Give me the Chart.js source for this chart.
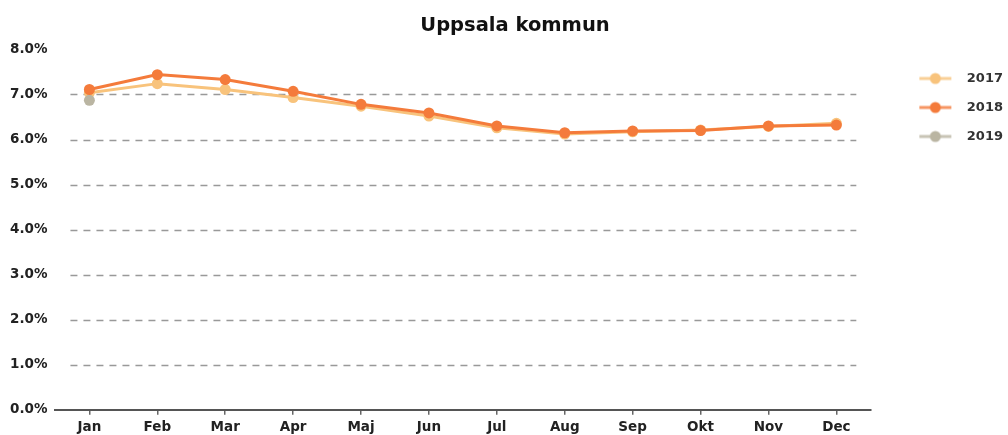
<!DOCTYPE html>
<html>
<head>
<meta charset="utf-8">
<script src="https://cdn.jsdelivr.net/npm/chart.js@4"></script>
<style>
  html, body { margin: 0; padding: 0; background: #fff; }
  #wrap { width: 1008px; height: 435px; }
</style>
</head>
<body>
<div id="wrap"><canvas id="chart"></canvas></div>
<script>
// data (percent)
const months = ['Jan', 'Feb', 'Mar', 'Apr', 'Maj', 'Jun', 'Jul', 'Aug', 'Sep', 'Okt', 'Nov', 'Dec'];
const v2017 = [7.04, 7.24, 7.11, 6.93, 6.74, 6.52, 6.26, 6.12, 6.17, 6.21, 6.29, 6.36];
const v2018 = [7.11, 7.44, 7.33, 7.07, 6.78, 6.59, 6.30, 6.15, 6.19, 6.20, 6.30, 6.32];
const v2019 = [6.87, null, null, null, null, null, null, null, null, null, null, null];
const gridValues = [1, 2, 3, 4, 5, 6, 7];

const colors = { '2017': '#f8c37c', '2018': '#f47b3b', '2019': '#bab5a2' };
const font = 'DejaVu Sans';

// little line + dot glyph for legend
function legendGlyph(col) {
  const c = document.createElement('canvas');
  c.width = 34; c.height = 14;
  const g = c.getContext('2d');
  g.strokeStyle = col; g.globalAlpha = 0.8;
  g.lineWidth = 3;
  g.beginPath(); g.moveTo(1, 7); g.lineTo(33, 7); g.stroke();
  g.globalAlpha = 1;
  g.fillStyle = col;
  g.beginPath(); g.arc(17, 7, 5.5, 0, Math.PI * 2); g.fill();
  return c;
}

// dashed grid lines, a bit inset from the axis ends
const dashedGrid = {
  id: 'dashedGrid',
  beforeDatasetsDraw(chart) {
    const ctx = chart.ctx, y = chart.scales.y, a = chart.chartArea;
    ctx.save();
    ctx.strokeStyle = '#999';
    ctx.lineWidth = 1.5;
    ctx.setLineDash([7, 6]);
    gridValues.forEach(v => {
      const py = Math.round(y.getPixelForValue(v)) + 0.5;
      ctx.beginPath();
      ctx.moveTo(a.left + 15, py);
      ctx.lineTo(a.right - 14, py);
      ctx.stroke();
    });
    ctx.restore();
  }
};

// leave a gap between plot and legend, push legend down, nudge title
const GAP = 19, SHIFT = 24;
const placeBoxes = {
  id: 'placeBoxes',
  beforeInit(chart) {
    const lg = chart.legend;
    const fit = lg.fit;
    lg.fit = function () { fit.call(this); this.width += GAP; };
  },
  afterLayout(chart) {
    const lg = chart.legend;
    lg.left += SHIFT; lg.right += SHIFT;
    lg.top += 48; lg.bottom += 48;
    chart.titleBlock.left += 10; chart.titleBlock.right += 10;
  }
};

function ds(label, data, order) {
  return {
    label: label,
    data: data,
    borderColor: colors[label],
    backgroundColor: colors[label],
    borderWidth: 3,
    pointRadius: 5.5,
    pointHoverRadius: 5.5,
    pointBorderWidth: 0,
    tension: 0,
    order: order
  };
}

new Chart(document.getElementById('chart'), {
  type: 'line',
  data: {
    labels: months,
    datasets: [ds('2017', v2017, 2), ds('2018', v2018, 0), ds('2019', v2019, 1)]
  },
  options: {
    responsive: true,
    maintainAspectRatio: false,
    animation: false,
    layout: { padding: { left: 2, right: 0, top: 8, bottom: 0 } },
    plugins: {
      title: {
        display: true,
        text: 'Uppsala kommun',
        color: '#111',
        font: { family: font, size: 19.5, weight: 'bold' },
        padding: { top: 6, bottom: 12 }
      },
      legend: {
        position: 'right',
        align: 'start',
        labels: {
          usePointStyle: true,
          pointStyleWidth: 50,
          color: '#333',
          padding: 16,
          font: { family: font, size: 13, weight: 'bold' },
          generateLabels(chart) {
            return chart.data.datasets.map((d, i) => ({
              text: d.label,
              pointStyle: legendGlyph(d.borderColor),
              fillStyle: d.borderColor,
              strokeStyle: d.borderColor,
              lineWidth: 0,
              fontColor: '#333',
              datasetIndex: i
            }));
          }
        }
      },
      tooltip: { enabled: false }
    },
    scales: {
      x: {
        offset: true,
        afterFit: s => { s.height -= 6; },
        grid: { display: true, drawOnChartArea: false, offset: false, tickLength: 5, color: '#666', lineWidth: 1.5 },
        border: { display: true, color: '#555', width: 2 },
        ticks: { color: '#222', font: { family: font, size: 13.5, weight: 'bold' }, padding: 5, maxRotation: 0 }
      },
      y: {
        min: 0,
        max: 8,
        grid: { display: false, drawTicks: false },
        border: { display: false },
        ticks: {
          stepSize: 1,
          color: '#222',
          padding: 8,
          font: { family: font, size: 13.5, weight: 'bold' },
          callback: v => v.toFixed(1) + '%'
        }
      }
    }
  },
  plugins: [dashedGrid, placeBoxes]
});
</script>
</body>
</html>
